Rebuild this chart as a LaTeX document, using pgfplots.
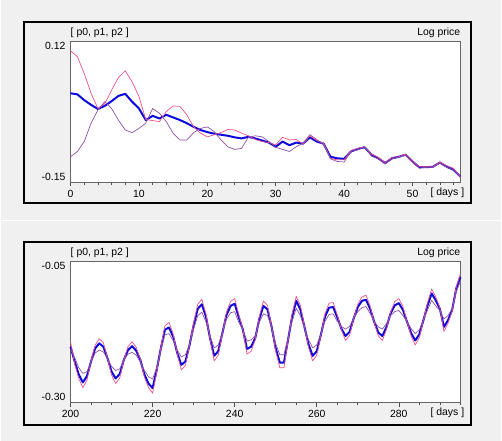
\documentclass[border=0pt]{standalone}
\usepackage{fontspec}
\setmainfont{Liberation Sans}
\usepackage{pgfplots}
\pgfplotsset{compat=1.18}
\definecolor{bg}{HTML}{F0F0F0}
\definecolor{pblue}{HTML}{0A0ADC}
\definecolor{ppink}{HTML}{F0508C}
\definecolor{ppurple}{HTML}{9050A8}

\pgfplotstableread{
x p0 p1 p2
0 0.020 0.101 -0.101
1 0.018 0.090 -0.091
2 0.007 0.058 -0.072
3 -0.002 0.020 -0.037
4 -0.010 -0.009 -0.012
5 -0.004 0.000 0.004
6 0.005 0.026 -0.009
7 0.015 0.050 -0.031
8 0.019 0.063 -0.050
9 0.004 0.042 -0.055
10 -0.009 0.014 -0.047
11 -0.031 -0.030 -0.037
12 -0.023 -0.032 -0.009
13 -0.028 -0.034 -0.018
14 -0.021 -0.015 -0.034
15 -0.026 -0.004 -0.056
16 -0.031 -0.005 -0.069
17 -0.037 -0.021 -0.069
18 -0.044 -0.044 -0.055
19 -0.050 -0.056 -0.047
20 -0.054 -0.063 -0.044
21 -0.057 -0.059 -0.053
22 -0.059 -0.055 -0.069
23 -0.061 -0.049 -0.082
24 -0.064 -0.050 -0.087
25 -0.066 -0.056 -0.085
26 -0.063 -0.061 -0.064
27 -0.066 -0.068 -0.061
28 -0.070 -0.072 -0.063
29 -0.074 -0.074 -0.072
30 -0.082 -0.078 -0.083
31 -0.072 -0.064 -0.087
32 -0.079 -0.069 -0.091
33 -0.074 -0.068 -0.082
34 -0.076 -0.077 -0.075
35 -0.064 -0.061 -0.059
36 -0.072 -0.070 -0.068
37 -0.076 -0.075 -0.078
38 -0.101 -0.104 -0.105
39 -0.104 -0.107 -0.110
40 -0.105 -0.107 -0.111
41 -0.091 -0.089 -0.091
42 -0.086 -0.085 -0.088
43 -0.083 -0.082 -0.082
44 -0.097 -0.096 -0.100
45 -0.104 -0.102 -0.105
46 -0.113 -0.112 -0.115
47 -0.104 -0.102 -0.105
48 -0.101 -0.101 -0.102
49 -0.097 -0.096 -0.098
50 -0.110 -0.109 -0.112
51 -0.121 -0.120 -0.123
52 -0.121 -0.120 -0.121
53 -0.120 -0.120 -0.121
54 -0.112 -0.111 -0.113
55 -0.120 -0.118 -0.121
56 -0.126 -0.123 -0.126
57 -0.139 -0.139 -0.140
}\toptable

\pgfplotstableread{
x p0 p1 p2
200 -0.201 -0.192 -0.205
201 -0.227 -0.231 -0.220
202 -0.250 -0.257 -0.238
203 -0.264 -0.273 -0.248
204 -0.253 -0.260 -0.245
205 -0.227 -0.226 -0.228
206 -0.204 -0.198 -0.212
207 -0.195 -0.187 -0.207
208 -0.201 -0.194 -0.210
209 -0.221 -0.221 -0.222
210 -0.245 -0.251 -0.236
211 -0.257 -0.266 -0.243
212 -0.249 -0.256 -0.240
213 -0.224 -0.224 -0.224
214 -0.207 -0.201 -0.214
215 -0.200 -0.192 -0.211
216 -0.208 -0.202 -0.216
217 -0.224 -0.223 -0.228
218 -0.250 -0.255 -0.243
219 -0.266 -0.273 -0.254
220 -0.274 -0.283 -0.258
221 -0.242 -0.246 -0.238
222 -0.204 -0.202 -0.208
223 -0.171 -0.164 -0.180
224 -0.167 -0.158 -0.178
225 -0.183 -0.178 -0.190
226 -0.212 -0.214 -0.207
227 -0.233 -0.242 -0.219
228 -0.227 -0.234 -0.215
229 -0.198 -0.198 -0.197
230 -0.163 -0.159 -0.170
231 -0.134 -0.126 -0.146
232 -0.126 -0.117 -0.140
233 -0.148 -0.143 -0.157
234 -0.186 -0.188 -0.182
235 -0.217 -0.226 -0.203
236 -0.209 -0.216 -0.198
237 -0.177 -0.178 -0.176
238 -0.145 -0.140 -0.152
239 -0.129 -0.121 -0.141
240 -0.125 -0.116 -0.139
241 -0.149 -0.144 -0.158
242 -0.171 -0.171 -0.171
243 -0.205 -0.214 -0.191
244 -0.201 -0.209 -0.189
245 -0.186 -0.189 -0.182
246 -0.152 -0.148 -0.158
247 -0.129 -0.120 -0.143
248 -0.135 -0.128 -0.146
249 -0.166 -0.166 -0.166
250 -0.204 -0.209 -0.196
251 -0.229 -0.238 -0.215
252 -0.229 -0.238 -0.215
253 -0.189 -0.191 -0.186
254 -0.148 -0.143 -0.156
255 -0.120 -0.112 -0.133
256 -0.135 -0.128 -0.146
257 -0.166 -0.165 -0.168
258 -0.197 -0.202 -0.189
259 -0.217 -0.226 -0.203
260 -0.209 -0.216 -0.198
261 -0.180 -0.181 -0.179
262 -0.148 -0.143 -0.156
263 -0.132 -0.124 -0.144
264 -0.131 -0.123 -0.143
265 -0.149 -0.145 -0.156
266 -0.169 -0.171 -0.165
267 -0.182 -0.190 -0.170
268 -0.175 -0.181 -0.165
269 -0.151 -0.151 -0.151
270 -0.131 -0.126 -0.139
271 -0.120 -0.113 -0.132
272 -0.118 -0.110 -0.130
273 -0.134 -0.129 -0.142
274 -0.157 -0.158 -0.156
275 -0.176 -0.182 -0.166
276 -0.182 -0.190 -0.170
277 -0.166 -0.170 -0.160
278 -0.142 -0.140 -0.146
279 -0.128 -0.121 -0.139
280 -0.124 -0.116 -0.137
281 -0.136 -0.130 -0.146
282 -0.157 -0.157 -0.157
283 -0.177 -0.182 -0.169
284 -0.190 -0.198 -0.178
285 -0.179 -0.185 -0.171
286 -0.154 -0.154 -0.154
287 -0.128 -0.123 -0.136
288 -0.107 -0.099 -0.119
289 -0.119 -0.113 -0.129
290 -0.134 -0.132 -0.137
291 -0.166 -0.174 -0.152
292 -0.154 -0.159 -0.146
293 -0.136 -0.138 -0.133
294 -0.098 -0.095 -0.104
295 -0.078 -0.072 -0.086
}\bottable

\pgfplotsset{panel/.style={
  anchor=south west, scale only axis, width=391bp, height=142bp,
  axis background/.style={fill=white},
  axis line style={draw=black!60, line width=0.7bp},
  ytick=\empty,
  tick align=outside, xtick pos=bottom,
  major tick length=4bp, minor tick length=2.5bp,
  every tick/.style={black!70, line width=0.6bp},
  /pgf/number format/assume math mode=true,
  ticklabel style={font=\fontsize{10.5}{12}\selectfont},
  clip=false,
  every axis plot/.append style={line join=round},
}}

\begin{document}
\begin{tikzpicture}[x=1bp,y=1bp]
\fill[bg] (0,0) rectangle (502,442);
\draw[white, line width=1.5bp] (0,221) -- (502,221);
\draw[black, line width=2bp] (23,238) rectangle (472,420);
\draw[black, line width=2bp] (23,16) rectangle (472,199);

\begin{axis}[panel, at={(70bp,259bp)},
  xmin=0, xmax=57, ymin=-0.15, ymax=0.12,
  xtick={0,10,20,30,40,50}, minor xtick={0,2,...,56}]
\addplot[pblue, line width=2bp] table[x=x,y=p0] {\toptable};
\addplot[ppink, line width=0.7bp] table[x=x,y=p1] {\toptable};
\addplot[ppurple, line width=0.7bp] table[x=x,y=p2] {\toptable};
\node[anchor=east, inner sep=0, font=\fontsize{10.5}{12}\selectfont] at (rel axis cs:0,1) [yshift=-4.7bp, xshift=-5bp] {0.12};
\node[anchor=east, inner sep=0, font=\fontsize{10.5}{12}\selectfont] at (rel axis cs:0,0) [yshift=6bp, xshift=-5bp] {-0.15};
\node[anchor=west, inner sep=0, font=\fontsize{10.5}{12}\selectfont] at (rel axis cs:0,1) [yshift=8bp] {[ p0, p1, p2 ]};
\node[anchor=east, inner sep=0, font=\fontsize{10.5}{12}\selectfont] at (rel axis cs:1,1) [yshift=8bp] {Log price};
\node[anchor=east, inner sep=0, font=\fontsize{10.5}{12}\selectfont] at (rel axis cs:1,0) [yshift=-10bp, xshift=4bp] {[ days ]};
\end{axis}

\begin{axis}[panel, at={(70bp,38bp)},
  xmin=200, xmax=295, ymin=-0.30, ymax=-0.05,
  xtick={200,220,240,260,280}, minor xtick={205,210,...,295}]
\addplot[pblue, line width=2bp] table[x=x,y=p0] {\bottable};
\addplot[ppink, line width=0.7bp] table[x=x,y=p1] {\bottable};
\addplot[ppurple, line width=0.7bp] table[x=x,y=p2] {\bottable};
\node[anchor=east, inner sep=0, font=\fontsize{10.5}{12}\selectfont] at (rel axis cs:0,1) [yshift=-4.7bp, xshift=-5bp] {-0.05};
\node[anchor=east, inner sep=0, font=\fontsize{10.5}{12}\selectfont] at (rel axis cs:0,0) [yshift=6bp, xshift=-5bp] {-0.30};
\node[anchor=west, inner sep=0, font=\fontsize{10.5}{12}\selectfont] at (rel axis cs:0,1) [yshift=8bp] {[ p0, p1, p2 ]};
\node[anchor=east, inner sep=0, font=\fontsize{10.5}{12}\selectfont] at (rel axis cs:1,1) [yshift=8bp] {Log price};
\node[anchor=east, inner sep=0, font=\fontsize{10.5}{12}\selectfont] at (rel axis cs:1,0) [yshift=-10bp, xshift=4bp] {[ days ]};
\end{axis}
\end{tikzpicture}
\end{document}
